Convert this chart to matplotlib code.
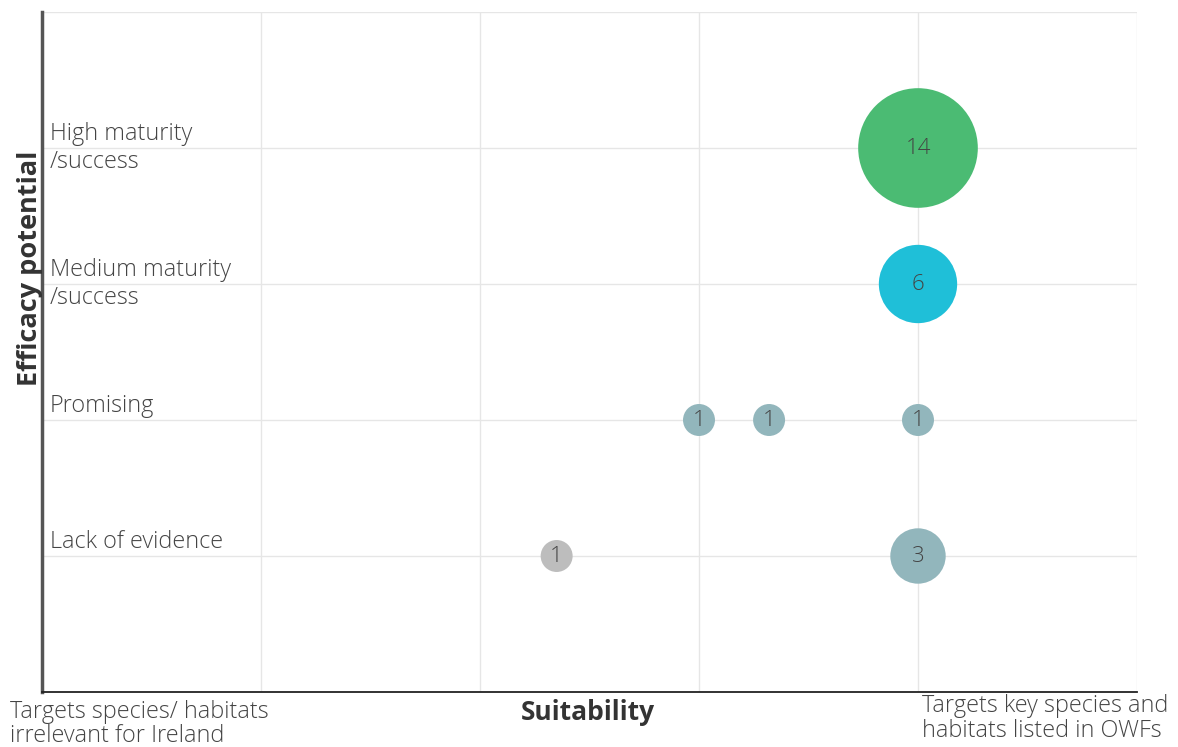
import numpy as np
import matplotlib.pyplot as plt

# bubbles: suitability (x), efficacy level (y), count
suit = [4, 4, 3, 3.32, 4, 2.35, 4]
eff = [4, 3, 2, 2, 2, 1, 1]
count = [14, 6, 1, 1, 1, 1, 3]
colors = ["#4bbb73", "#1fbfd8", "#92b6bc", "#92b6bc", "#92b6bc", "#bdbdbd", "#92b6bc"]

y_levels = [1, 2, 3, 4]
y_names = ["Lack of evidence\n ", "Promising\n ", "Medium maturity\n/success", "High maturity\n/success"]
x_low = "Targets species/ habitats\nirrelevant for Ireland"
x_high = "Targets key species and\nhabitats listed in OWFs"

plt.rcParams['font.family'] = ['Open Sans', 'DejaVu Sans']

fig = plt.figure(figsize=(11.78, 7.47), dpi=100)
ax = fig.add_axes([42 / 1178, 55 / 747, 1095 / 1178, 680 / 747])

ax.set_xlim(0, 5)
ax.set_ylim(0, 5)
ax.set_xticks(range(6))
ax.set_yticks(range(6))
ax.grid(True, color="#e6e6e6", lw=1)
ax.set_axisbelow(True)
ax.tick_params(length=0, labelbottom=False, labelleft=False)
for s in ["top", "right"]:
    ax.spines[s].set_visible(False)
ax.spines["left"].set_color("#555555")
ax.spines["left"].set_linewidth(2.5)
ax.spines["bottom"].set_color("#222222")
ax.spines["bottom"].set_linewidth(1.3)

sizes = [530 * c for c in count]
ax.scatter(suit, eff, s=sizes, c=colors, edgecolors="none", zorder=3, clip_on=False)
for x, y, c in zip(suit, eff, count):
    ax.text(x, y, str(c), ha="center", va="center", fontsize=16, color="#444444",
            fontweight="light", zorder=4)

for y, name in zip(y_levels, y_names):
    ax.text(0.035, y, name, ha="left", va="center", fontsize=16.8, color="#444444",
            fontweight="light", linespacing=1.2)

fig.text(30 / 1178, 1 - 268 / 747, "Efficacy potential", rotation=90, ha="center", va="center",
         fontsize=19.5, fontweight="bold", color="#333333")
fig.text(588 / 1178, 1 - 712 / 747, "Suitability", ha="center", va="center",
         fontsize=19, fontweight="bold", color="#333333")
fig.text(10 / 1178, 1 - 700 / 747, x_low, ha="left", va="top", fontsize=16.8,
         color="#444444", fontweight="light", linespacing=1.0)
fig.text(922 / 1178, 1 - 694 / 747, x_high, ha="left", va="top", fontsize=16.8,
         color="#444444", fontweight="light", linespacing=1.05)

fig.savefig("out.png", dpi=100)
